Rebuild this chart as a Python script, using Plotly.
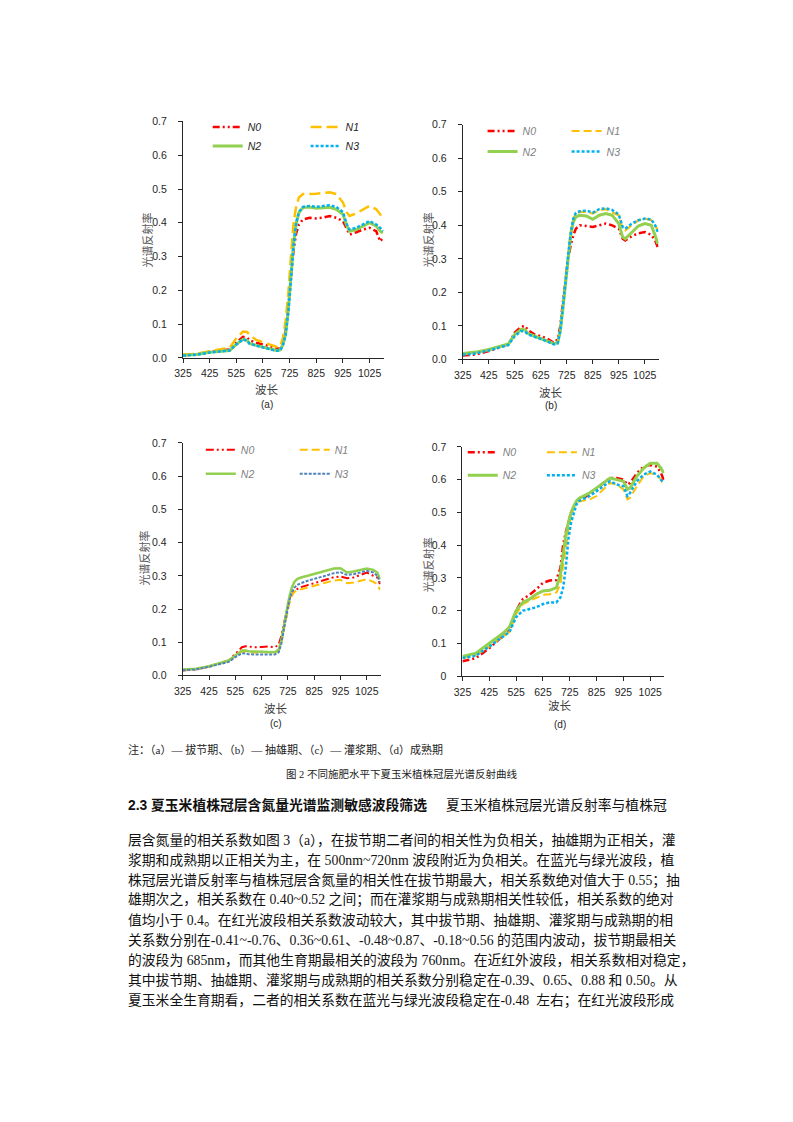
import plotly.graph_objects as go

# ---------------- data ----------------
wl = [325, 375, 425, 475, 500, 525, 550, 565, 575, 600, 625, 650, 675, 690, 700, 710, 720, 730,
      740, 750, 760, 775, 800, 825, 850, 875, 900, 925, 940, 950, 975, 1000, 1025, 1050, 1065, 1075]

# (a) jointing stage
a_N0 = [.008, .010, .018, .022, .025, .045, .062, .060, .052, .045, .040, .035, .028, .026, .045, .080, .150, .240,
        .320, .370, .395, .410, .415, .413, .415, .420, .415, .405, .380, .365, .372, .380, .385, .375, .345, .355]
a_N1 = [.010, .012, .020, .027, .030, .058, .078, .077, .068, .053, .046, .040, .033, .034, .060, .110, .190, .300,
        .400, .450, .475, .485, .485, .486, .488, .490, .485, .460, .430, .420, .428, .440, .450, .440, .425, .410]
a_N2 = [.008, .010, .017, .020, .022, .040, .055, .052, .043, .037, .032, .028, .022, .024, .040, .070, .140, .240,
        .340, .400, .430, .445, .447, .443, .445, .446, .440, .425, .390, .375, .380, .390, .400, .390, .375, .370]
a_N3 = [.007, .009, .016, .020, .022, .040, .055, .051, .042, .036, .031, .027, .021, .022, .038, .068, .135, .235,
        .335, .400, .432, .447, .450, .447, .450, .452, .447, .432, .395, .380, .385, .395, .405, .395, .385, .375]

# (b) tasseling stage
b_N0 = [.012, .015, .025, .038, .045, .080, .098, .100, .088, .075, .070, .062, .050, .060, .100, .170, .240, .300,
        .340, .370, .390, .400, .398, .395, .400, .405, .400, .390, .360, .355, .368, .376, .380, .372, .355, .335]
b_N1 = [.016, .020, .028, .040, .045, .072, .090, .088, .078, .070, .064, .056, .047, .050, .090, .160, .240, .320,
        .380, .420, .435, .440, .440, .435, .445, .448, .440, .430, .390, .385, .400, .415, .420, .415, .400, .385]
b_N2 = [.018, .022, .030, .042, .046, .075, .090, .088, .078, .070, .063, .055, .047, .050, .085, .150, .230, .310,
        .370, .410, .425, .430, .428, .418, .430, .435, .430, .405, .365, .360, .380, .398, .405, .400, .370, .345]
b_N3 = [.014, .018, .027, .038, .043, .070, .085, .083, .075, .068, .062, .054, .045, .048, .085, .150, .230, .310,
        .375, .420, .437, .442, .444, .438, .448, .451, .446, .432, .395, .390, .405, .415, .420, .418, .400, .380]

# (c) filling stage
c_N0 = [.015, .018, .027, .038, .045, .065, .085, .088, .087, .085, .086, .087, .085, .092, .120, .160, .200, .230,
        .245, .255, .260, .266, .272, .278, .284, .290, .296, .298, .294, .293, .295, .303, .310, .300, .295, .275]
c_N1 = [.016, .019, .027, .037, .043, .058, .072, .072, .070, .069, .070, .070, .068, .075, .100, .140, .180, .215,
        .240, .252, .256, .260, .265, .270, .276, .281, .286, .288, .282, .278, .280, .286, .290, .282, .275, .258]
c_N2 = [.018, .020, .028, .038, .045, .060, .075, .075, .073, .072, .072, .072, .070, .078, .105, .150, .195, .235,
        .265, .282, .290, .295, .300, .305, .310, .316, .322, .323, .316, .310, .313, .318, .322, .318, .310, .290]
c_N3 = [.016, .018, .026, .035, .041, .055, .067, .066, .064, .063, .063, .063, .063, .070, .095, .140, .185, .225,
        .250, .265, .272, .278, .285, .290, .296, .302, .308, .311, .305, .303, .305, .310, .315, .310, .300, .280]

# (d) maturity stage
d_N0 = [.045, .055, .085, .120, .140, .200, .235, .243, .248, .265, .285, .292, .293, .330, .400, .440, .470, .500,
        .515, .530, .538, .545, .555, .570, .590, .605, .605, .600, .585, .590, .620, .640, .645, .640, .620, .600]
d_N1 = [.055, .065, .090, .120, .135, .190, .220, .226, .230, .240, .248, .250, .255, .280, .330, .390, .450, .490,
        .515, .530, .533, .536, .540, .550, .570, .590, .585, .570, .540, .545, .580, .610, .620, .615, .600, .580]
d_N2 = [.060, .070, .100, .130, .150, .200, .225, .230, .235, .250, .260, .262, .270, .310, .370, .430, .470, .500,
        .520, .535, .543, .550, .560, .575, .590, .605, .600, .595, .570, .575, .610, .635, .650, .650, .635, .620]
d_N3 = [.055, .062, .090, .120, .135, .180, .200, .202, .205, .210, .220, .225, .225, .240, .270, .330, .420, .470,
        .500, .525, .535, .540, .550, .565, .580, .595, .585, .580, .550, .560, .595, .615, .625, .615, .600, .590]

series_names = ["N0", "N1", "N2", "N3"]
panel_labels = ["(a)", "(b)", "(c)", "(d)"]
x_tickvals = [325, 425, 525, 625, 725, 825, 925, 1025]
y_tickvals = [0, 0.1, 0.2, 0.3, 0.4, 0.5, 0.6, 0.7]
y_ticktext_abc = ["0.0", "0.1", "0.2", "0.3", "0.4", "0.5", "0.6", "0.7"]
y_ticktext_d = ["0", "0.1", "0.2", "0.3", "0.4", "0.5", "0.6", "0.7"]
x_title = "波长"
y_title = "光谱反射率"

note_text = "注：（a）— 拔节期、（b）— 抽雄期、（c）— 灌浆期、（d）成熟期"
caption_text = "图 2 不同施肥水平下夏玉米植株冠层光谱反射曲线"
heading_bold = "2.3 夏玉米植株冠层含氮量光谱监测敏感波段筛选"
heading_rest = "夏玉米植株冠层光谱反射率与植株冠"
body_lines = [
    "层含氮量的相关系数如图 3（a），在拔节期二者间的相关性为负相关，抽雄期为正相关，灌",
    "浆期和成熟期以正相关为主，在 500nm~720nm 波段附近为负相关。在蓝光与绿光波段，植",
    "株冠层光谱反射率与植株冠层含氮量的相关性在拔节期最大，相关系数绝对值大于 0.55；抽",
    "雄期次之，相关系数在 0.40~0.52 之间；而在灌浆期与成熟期相关性较低，相关系数的绝对",
    "值均小于 0.4。在红光波段相关系数波动较大，其中拔节期、抽雄期、灌浆期与成熟期的相",
    "关系数分别在-0.41~-0.76、0.36~0.61、-0.48~0.87、-0.18~0.56 的范围内波动，拔节期最相关",
    "的波段为 685nm，而其他生育期最相关的波段为 760nm。在近红外波段，相关系数相对稳定，",
    "其中拔节期、抽雄期、灌浆期与成熟期的相关系数分别稳定在-0.39、0.65、0.88 和 0.50。从",
    "夏玉米全生育期看，二者的相关系数在蓝光与绿光波段稳定在-0.48  左右；在红光波段形成",
]

# ---------------- layout helpers ----------------
W, H = 793, 1122
def px_x(p):
    return p / W
def px_y(p):
    return 1 - p / H

# plot areas in page pixels: (left, right, top, bottom)
areas = [(176, 379, 116.7, 355.7), (459, 657, 120, 357.3), (175.7, 376, 441.7, 676.7), (458.7, 663, 445.7, 677.3)]
data_sets = [
    [a_N0, a_N1, a_N2, a_N3],
    [b_N0, b_N1, b_N2, b_N3],
    [c_N0, c_N1, c_N2, c_N3],
    [d_N0, d_N1, d_N2, d_N3],
]
colors = [
    ["#FF0000", "#FFC000", "#92D050", "#00B0F0"],
    ["#FF0000", "#FFC000", "#92D050", "#00B0F0"],
    ["#FF0000", "#FFC000", "#92D050", "#4F81BD"],
    ["#FF0000", "#FFC000", "#92D050", "#00B0F0"],
]
dashes = [
    ["7px,3px,2px,3px,2px,3px", "11px,5px", "solid", "3px,2px"],
    ["7px,3px,2px,3px,2px,3px", "8px,4px", "solid", "3px,2px"],
    ["8px,3px,2px,3px,2px,3px", "8px,4px", "solid", "3px,1.5px"],
    ["7px,3px,2px,3px,2px,3px", "8px,4px", "solid", "3px,2px"],
]
widths = [[2.5, 2.5, 3, 2.5], [2.5, 2.2, 3, 2.5], [2, 2, 2.5, 2], [2.5, 2, 3, 2.5]]
legend_text_color = ["#262626", "#7F7F7F", "#7F7F7F", "#7F7F7F"]
# legend placement: (col1 x, col2 x, first row center y, row gap)
legend_pos = [(201, 300, 127.7, 19), (479, 564, 131.7, 20.6), (194, 289, 454, 24), (459, 539, 456.5, 23)]
xtitle_pos = [(261, 387, 403), (548, 390, 404), (270, 710, 725), (557, 707, 726)]
ytitle_pos = [(140, 236.7), (424, 236.7), (137, 558), (424, 565)]

fig = go.Figure()
layout = dict(width=W, height=H, margin=dict(l=0, r=0, t=0, b=0), paper_bgcolor="white",
              plot_bgcolor="white", showlegend=True,
              font=dict(family="Liberation Sans, Noto Sans CJK SC", color="#262626"))
annotations = []

axis_font = dict(family="Liberation Sans, Noto Sans CJK SC", size=10.5, color="#262626")
for i in range(4):
    k = "" if i == 0 else str(i + 1)
    l, r, t, b = areas[i]
    layout["xaxis" + k] = dict(domain=[px_x(l), px_x(r)], range=[325, 1078], anchor="y" + k,
                               tickvals=x_tickvals, ticks="outside", ticklen=4, tickcolor="#262626",
                               showline=True, linecolor="#262626", linewidth=1, showgrid=False,
                               zeroline=False, tickfont=axis_font, ticklabelstandoff=2)
    layout["yaxis" + k] = dict(domain=[px_y(b), px_y(t)], range=[0, 0.7], anchor="x" + k,
                               tickvals=y_tickvals,
                               ticktext=y_ticktext_d if i == 3 else y_ticktext_abc,
                               ticks="outside", ticklen=4, tickcolor="#262626",
                               showline=True, linecolor="#262626", linewidth=1, showgrid=False,
                               zeroline=False, tickfont=axis_font, ticklabelstandoff=9)
    # legends: two vertical legends per panel (left column N0,N2; right column N1,N3)
    cx1, cx2, ry, gap = legend_pos[i]
    for col, cx in enumerate([cx1, cx2]):
        lname = "legend" + ("" if (2 * i + col) == 0 else str(2 * i + col + 1))
        layout[lname] = dict(x=px_x(cx), y=px_y(ry - 20), xanchor="left", yanchor="top",
                             bgcolor="rgba(0,0,0,0)", borderwidth=0, tracegroupgap=max(gap - 19, 0),
                             font=dict(family="Liberation Sans", size=10.5, style="italic",
                                       color=legend_text_color[i]),
                             itemwidth=30)
    for s in range(4):
        col = s % 2
        lname = "legend" + ("" if (2 * i + col) == 0 else str(2 * i + col + 1))
        fig.add_trace(go.Scatter(
            x=wl, y=data_sets[i][s], mode="lines", name=series_names[s],
            xaxis="x" + k, yaxis="y" + k, legend=lname, legendgroup=f"p{i}s{s}",
            line=dict(color=colors[i][s], width=widths[i][s], dash=dashes[i][s]),
            hoverinfo="skip"))
    # axis titles and panel labels
    tx, ty1, ty2 = xtitle_pos[i]
    annotations.append(dict(text=x_title, x=px_x(tx), y=px_y(ty1), xref="paper", yref="paper",
                            xanchor="center", yanchor="middle", showarrow=False,
                            font=dict(family="Noto Sans CJK SC", size=11.5, color="#404040")))
    annotations.append(dict(text=panel_labels[i], x=px_x(tx), y=px_y(ty2), xref="paper", yref="paper",
                            xanchor="center", yanchor="middle", showarrow=False,
                            font=dict(family="Liberation Sans", size=10, color="#262626")))
    yx, yy = ytitle_pos[i]
    annotations.append(dict(text=y_title, x=px_x(yx), y=px_y(yy), xref="paper", yref="paper",
                            xanchor="center", yanchor="middle", showarrow=False, textangle=-90,
                            font=dict(family="Noto Sans CJK SC", size=11, color="#595959")))

# page text
serif = "Liberation Serif, Noto Sans CJK SC"
annotations.append(dict(text=note_text, x=px_x(118), y=px_y(752), xref="paper", yref="paper",
                        xanchor="left", yanchor="middle", showarrow=False,
                        font=dict(family=serif, size=11, color="#222222")))
annotations.append(dict(text=caption_text, x=px_x(397), y=px_y(776), xref="paper", yref="paper",
                        xanchor="center", yanchor="middle", showarrow=False,
                        font=dict(family=serif, size=10.5, color="#222222")))
annotations.append(dict(text="<b>" + heading_bold + "</b>", x=px_x(118), y=px_y(808), xref="paper",
                        yref="paper", xanchor="left", yanchor="middle", showarrow=False,
                        font=dict(family="Liberation Sans, Noto Sans CJK SC", size=13.8, color="#111111")))
annotations.append(dict(text=heading_rest, x=px_x(440), y=px_y(808), xref="paper", yref="paper",
                        xanchor="left", yanchor="middle", showarrow=False,
                        font=dict(family=serif, size=13.8, color="#111111")))
for j, line in enumerate(body_lines):
    annotations.append(dict(text=line, x=px_x(118), y=px_y(843.5 + j * 20.2), xref="paper", yref="paper",
                            xanchor="left", yanchor="middle", showarrow=False,
                            font=dict(family=serif, size=13.8, color="#111111")))

layout["annotations"] = annotations
fig.update_layout(**layout)
fig.write_html("out.html", config={"displayModeBar": False},
               post_script="document.body.style.margin='0px';")
